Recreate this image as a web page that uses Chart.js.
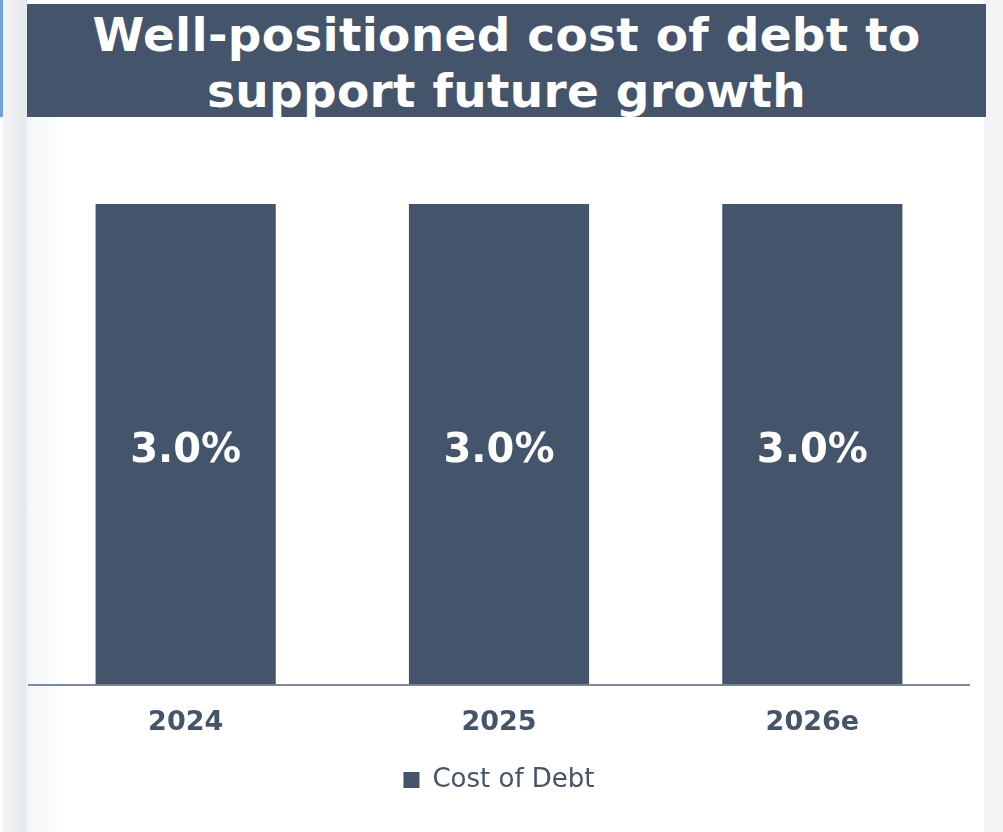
<!DOCTYPE html>
<html>
<head>
<meta charset="utf-8">
<script src="https://cdn.jsdelivr.net/npm/chart.js@4.4.1/dist/chart.umd.min.js"></script>
<style>
  html, body { margin: 0; padding: 0; background: #fff; }
  body { width: 1003px; height: 832px; position: relative; overflow: hidden; font-family: "DejaVu Sans", Verdana, sans-serif; }
  .edge-blue { position: absolute; left: 0; top: 0; width: 3px; height: 117px; background: #6f9fe0; }
  .edge-left { position: absolute; left: 3px; top: 0; width: 24px; height: 832px; background: linear-gradient(to right, #f2f4f6, #e6e9ec); }
  .fade-left { position: absolute; left: 27px; top: 117px; width: 40px; height: 715px; background: linear-gradient(to right, #f5f6f8, #ffffff); }
  .edge-right { position: absolute; left: 984px; top: 0; width: 19px; height: 832px; background: #f3f4f6; }
  .banner { position: absolute; left: 27px; top: 4px; width: 959px; height: 113px; background: #44546a; color: #fff;
            font-weight: bold; font-size: 47px; line-height: 56px; text-align: center; letter-spacing: 0.3px; }
  .banner div { padding-top: 3px; }
  #wrap { position: absolute; left: 27px; top: 117px; width: 957px; height: 715px; }
</style>
</head>
<body>
<div class="edge-blue"></div>
<div class="edge-left"></div>
<div class="fade-left"></div>
<div class="edge-right"></div>
<div class="banner"><div>Well-positioned cost of debt to<br>support future growth</div></div>
<div id="wrap"><canvas id="debtChart"></canvas></div>
<script>
  // ---- DATA ----
  const years = ["2024", "2025", "2026e"];
  const costOfDebt = [3.0, 3.0, 3.0];
  const seriesName = "Cost of Debt";

  const slate = "#44546a";

  // ---- VALUE LABELS INSIDE BARS ----
  const barValueLabels = {
    id: "barValueLabels",
    afterDatasetsDraw(chart) {
      const { ctx } = chart;
      const meta = chart.getDatasetMeta(0);
      ctx.save();
      ctx.font = "bold 40px 'DejaVu Sans'";
      ctx.fillStyle = "#ffffff";
      ctx.textAlign = "center";
      ctx.textBaseline = "alphabetic";
      meta.data.forEach((bar, i) => {
        const v = chart.data.datasets[0].data[i];
        // baseline sits a little below the bar middle
        ctx.fillText(v.toFixed(1) + "%", bar.x, (bar.y + bar.base) / 2 + 18);
      });
      ctx.restore();
    }
  };

  new Chart(document.getElementById("debtChart"), {
    type: "bar",
    data: {
      labels: years,
      datasets: [{
        label: seriesName,
        data: costOfDebt,
        backgroundColor: slate,
        barPercentage: 1,
        categoryPercentage: 0.575
      }]
    },
    options: {
      responsive: true,
      maintainAspectRatio: false,
      animation: false,
      layout: { padding: { left: 2, right: 15, top: 7, bottom: 29 } },
      plugins: {
        legend: {
          position: "bottom",
          labels: {
            boxWidth: 16,
            boxHeight: 16,
            color: slate,
            padding: 14,
            font: { family: "DejaVu Sans", size: 26 }
          }
        },
        tooltip: { enabled: false }
      },
      scales: {
        x: {
          grid: { display: false },
          border: { color: "#7c8ba0", width: 2 },
          ticks: {
            color: slate,
            padding: 14,
            font: { family: "DejaVu Sans", size: 27, weight: "bold" }
          }
        },
        y: {
          display: false,
          min: 0,
          max: 3.5
        }
      }
    },
    plugins: [barValueLabels]
  });
</script>
</body>
</html>
